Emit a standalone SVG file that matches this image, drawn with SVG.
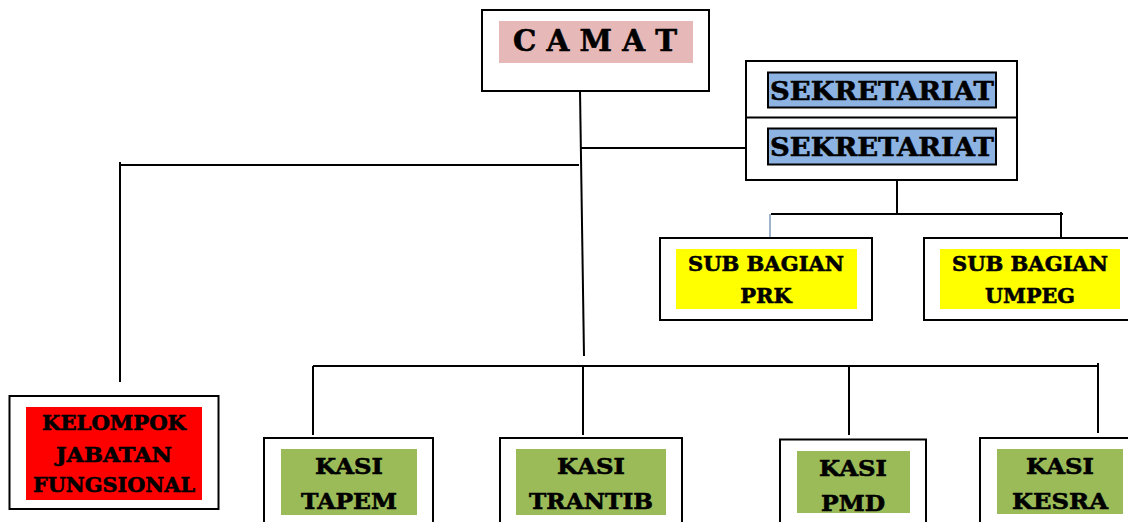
<svg xmlns="http://www.w3.org/2000/svg" width="1128" height="522" viewBox="0 0 1128 522">
<style>
.box{fill:#fff;stroke:#000;stroke-width:2}
.t{font-family:"DejaVu Serif","Liberation Serif",serif;font-weight:bold;fill:#000;stroke:#000;stroke-width:0.6;text-anchor:middle}
.ln{stroke:#000;stroke-width:2;fill:none}
</style>
<rect width="1128" height="522" fill="#fff"/>
<g id="connectors">
<path class="ln" d="M580,91 L584,356"/>
<path class="ln" d="M120,165 H579 M120,162 V382"/>
<path class="ln" d="M581,148 H750" stroke-width="1.5"/>
<path class="ln" d="M897,180 V214 M771,214 H1063 M1061,212 V246"/>
<path d="M770,214 V237" stroke="#7f9ab8" stroke-width="1.5"/>
<path class="ln" d="M313,366 H1098 M313,366 V435 M583,366 V435 M849,366 V435 M1098,363 V433"/>
</g>
<g id="camat">
<rect class="box" x="482" y="10" width="227" height="81"/>
<rect x="499" y="21" width="194" height="42" fill="#e6b8b8"/>
<text class="t" x="595" y="51" font-size="29" textLength="164" lengthAdjust="spacingAndGlyphs">C A M A T</text>
</g>
<g id="sekretariat">
<rect class="box" x="746" y="61" width="271" height="119"/>
<line x1="746" y1="117.5" x2="1017" y2="117.5" stroke="#000" stroke-width="2"/>
<rect x="768" y="72.5" width="228" height="35" fill="#8db3e2" stroke="#000" stroke-width="2"/>
<text class="t" x="882" y="99.5" font-size="26" textLength="224" lengthAdjust="spacingAndGlyphs">SEKRETARIAT</text>
<rect x="768" y="128.5" width="228" height="36" fill="#8db3e2" stroke="#000" stroke-width="2"/>
<text class="t" x="882" y="156" font-size="26" textLength="224" lengthAdjust="spacingAndGlyphs">SEKRETARIAT</text>
</g>
<g id="subbag-prk">
<rect class="box" x="660" y="238" width="212" height="82"/>
<rect x="676" y="249" width="181" height="60" fill="#ffff00"/>
<text class="t" x="766" y="271" font-size="21" textLength="156" lengthAdjust="spacingAndGlyphs">SUB BAGIAN</text>
<text class="t" x="766" y="303" font-size="21">PRK</text>
</g>
<g id="subbag-umpeg">
<rect class="box" x="924" y="238" width="210" height="82"/>
<rect x="940" y="249" width="180" height="60" fill="#ffff00"/>
<text class="t" x="1030" y="271" font-size="21" textLength="156" lengthAdjust="spacingAndGlyphs">SUB BAGIAN</text>
<text class="t" x="1030" y="303" font-size="21" textLength="90" lengthAdjust="spacingAndGlyphs">UMPEG</text>
</g>
<g id="kelompok">
<rect class="box" x="9.5" y="396" width="209" height="113"/>
<rect x="26" y="407" width="176" height="93" fill="#ff0000"/>
<text class="t" x="114" y="430" font-size="20" textLength="144" lengthAdjust="spacingAndGlyphs">KELOMPOK</text>
<text class="t" x="114" y="462" font-size="20" textLength="116" lengthAdjust="spacingAndGlyphs">JABATAN</text>
<text class="t" x="114" y="492" font-size="20" textLength="162" lengthAdjust="spacingAndGlyphs">FUNGSIONAL</text>
</g>
<g id="kasi-tapem">
<rect class="box" x="264" y="438" width="169" height="100"/>
<rect x="281" y="449" width="136" height="66" fill="#9bbb59"/>
<text class="t" x="349" y="474" font-size="23" textLength="68" lengthAdjust="spacingAndGlyphs">KASI</text>
<text class="t" x="349" y="509" font-size="23" textLength="96" lengthAdjust="spacingAndGlyphs">TAPEM</text>
</g>
<g id="kasi-trantib">
<rect class="box" x="500" y="438" width="182" height="100"/>
<rect x="516" y="449" width="150" height="66" fill="#9bbb59"/>
<text class="t" x="591" y="474" font-size="23" textLength="68" lengthAdjust="spacingAndGlyphs">KASI</text>
<text class="t" x="591" y="509" font-size="23" textLength="124" lengthAdjust="spacingAndGlyphs">TRANTIB</text>
</g>
<g id="kasi-pmd">
<rect class="box" x="780" y="439.5" width="146" height="100"/>
<rect x="797" y="451" width="113" height="62" fill="#9bbb59"/>
<text class="t" x="853" y="476" font-size="23" textLength="68" lengthAdjust="spacingAndGlyphs">KASI</text>
<text class="t" x="853" y="510.5" font-size="23" textLength="64" lengthAdjust="spacingAndGlyphs">PMD</text>
</g>
<g id="kasi-kesra">
<rect class="box" x="980" y="438" width="160" height="100"/>
<rect x="997" y="449" width="126" height="65" fill="#9bbb59"/>
<text class="t" x="1060" y="474" font-size="23" textLength="68" lengthAdjust="spacingAndGlyphs">KASI</text>
<text class="t" x="1060" y="509" font-size="23" textLength="96" lengthAdjust="spacingAndGlyphs">KESRA</text>
</g>
</svg>
